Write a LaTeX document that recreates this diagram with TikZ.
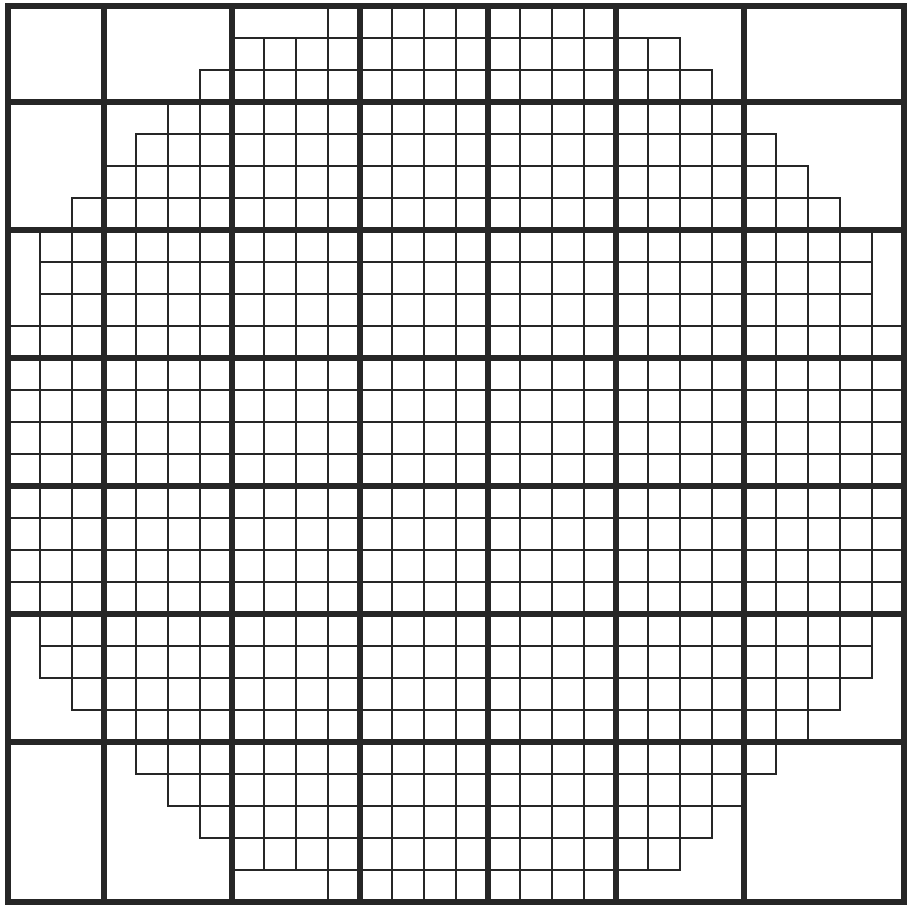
\documentclass[tikz,border=0pt]{standalone}
\usepackage{xcolor}
\usepackage{tikz}

\definecolor{inkgrey}{HTML}{262626}
\tikzset{
  diecell/.style={line width=1.9pt, draw=inkgrey},
  fieldline/.style={line width=4.4pt, draw=inkgrey, line cap=rect},
}

\begin{document}
\begin{tikzpicture}[x=0.8cm, y=-0.8cm]
  \useasboundingbox (-0.25,-0.19) rectangle (28.125,28.16);
  % dies: row / first column / column after the last one
  \foreach \r/\a/\b in {0/10/19, 1/7/21, 2/6/22, 3/5/23, 4/4/24, 5/3/25,
      6/2/26, 7/1/27, 8/1/27, 9/1/27, 10/0/28, 11/0/28, 12/0/28, 13/0/28,
      14/0/28, 15/0/28, 16/0/28, 17/0/28, 18/0/28, 19/1/27, 20/1/27,
      21/2/26, 22/3/25, 23/4/24, 24/5/23, 25/6/22, 26/7/21, 27/10/19}{
    \draw[diecell] (\a,\r) rectangle (\b,\r+1);
    \foreach \c in {\a,...,\b}
      \draw[diecell] (\c,\r) -- (\c,\r+1);
  }
  % exposure fields
  \foreach \k in {3,7,11,15,19,23}{
    \draw[fieldline] (\k,0) -- (\k,28);
    \draw[fieldline] (0,\k) -- (28,\k);
  }
  \draw[fieldline] (0,0) rectangle (28,28);
\end{tikzpicture}
\end{document}
